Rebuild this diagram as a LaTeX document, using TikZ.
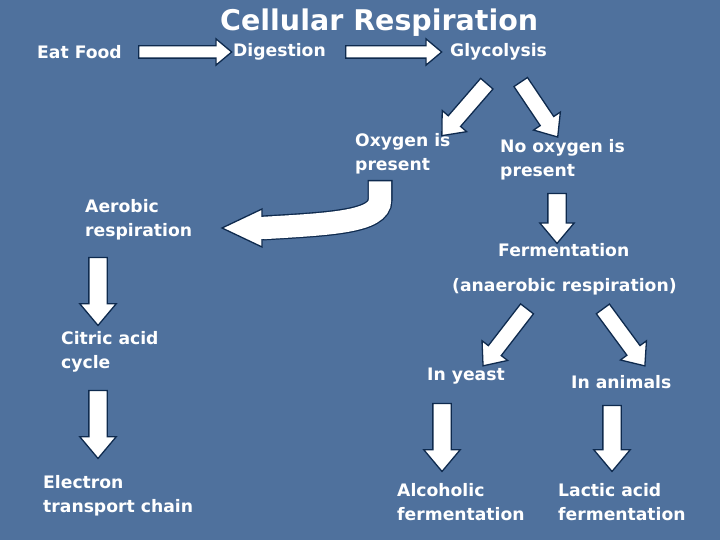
\documentclass[tikz,border=0pt]{standalone}
\usepackage{fontspec}
\setmainfont{DejaVu Sans}
\usetikzlibrary{shapes.arrows,calc}
\definecolor{bg}{HTML}{4F719D}
\definecolor{edge}{HTML}{0E2A4E}
\tikzset{
  lbl/.style={anchor=west,text=white,font=\bfseries\fontsize{17.2}{24}\selectfont,align=left,inner sep=0pt},
  barrowsty/.style={single arrow,draw=edge,fill=white,line width=1.3pt,inner xsep=0pt,shape border uses incircle=false,single arrow tip angle=80}
}
\newcommand{\barrow}[4]{% from, to, shaft width, head extend
  \path let \p1=(#1), \p2=(#2), \n1={atan2(\y2-\y1,\x2-\x1)}, \n2={veclen(\x2-\x1,\y2-\y1)} in
    node[barrowsty,minimum height=\n2,inner ysep=#3/2,single arrow head extend=#4,rotate=\n1] at ($(\p1)!0.5!(\p2)$) {};}
\begin{document}
\begin{tikzpicture}[x=1pt,y=-1pt]
\fill[bg] (0,0) rectangle (720,540);
\node[lbl,font=\bfseries\fontsize{28.5}{30}\selectfont] (title) at (220,23) {Cellular Respiration};
\node[lbl] (eat) at (37,52) {Eat Food};
\node[lbl] (dig) at (233,52) {Digestion};
\node[lbl] (gly) at (450,52) {Glycolysis};
\node[lbl] (oxy) at (355,154) {Oxygen is\\present};
\node[lbl] (noox) at (500,160) {No oxygen is\\present};
\node[lbl] (aer) at (85,220) {Aerobic\\respiration};
\node[lbl] (fer) at (498,250) {Fermentation};
\node[lbl] (ana) at (452,287) {(anaerobic respiration)};
\node[lbl] (cit) at (61,352) {Citric acid\\cycle};
\node[lbl] (yea) at (427,376) {In yeast};
\node[lbl] (ani) at (571,382) {In animals};
\node[lbl] (etc) at (43,496) {Electron\\transport chain};
\node[lbl] (alc) at (397,502) {Alcoholic\\fermentation};
\node[lbl] (lac) at (558,502) {Lactic acid\\fermentation};
\coordinate (a1) at (135,52); \coordinate (b1) at (228,52);
\coordinate (a2) at (342,52); \coordinate (b2) at (438,52);
\coordinate (a3) at (490,80); \coordinate (b3) at (445,132);
\coordinate (a4) at (518,78); \coordinate (b4) at (555,133);
\coordinate (a6) at (557,188); \coordinate (b6) at (557,238);
\coordinate (a7) at (98,252); \coordinate (b7) at (98,320);
\coordinate (a8) at (98,385); \coordinate (b8) at (98,453);
\coordinate (a9) at (530,305); \coordinate (b9) at (486,362);
\coordinate (a10) at (600,305); \coordinate (b10) at (642,362);
\coordinate (a11) at (442,398); \coordinate (b11) at (442,466);
\coordinate (a12) at (612,400); \coordinate (b12) at (612,466);
\barrow{a1}{b1}{11}{7}
\barrow{a2}{b2}{11}{7}
\barrow{a3}{b3}{15}{8}
\barrow{a4}{b4}{15}{8}
\barrow{a6}{b6}{17}{8}
\barrow{a7}{b7}{17}{9}
\barrow{a8}{b8}{17}{9}
\barrow{a9}{b9}{15}{8}
\barrow{a10}{b10}{15}{8}
\barrow{a11}{b11}{17}{9}
\barrow{a12}{b12}{17}{9}
% curved arrow
\coordinate (c0) at (380,180); \coordinate (c1) at (262,228);
\draw[edge,line width=25pt] (c0) -- (380,200) .. controls (380,222) and (330,224) .. (c1);
\draw[white,line width=22.4pt] ($(c0)+(0,1.3)$) -- (380,200) .. controls (380,222) and (330,224) .. ($(c1)+(1.5,0)$);
\draw[edge,fill=white,line width=1.3pt,line join=miter] (262,209) -- (222,228) -- (262,247) -- cycle;
\fill[white] (260.8,216.8) rectangle (266,239.2);
\end{tikzpicture}
\end{document}
